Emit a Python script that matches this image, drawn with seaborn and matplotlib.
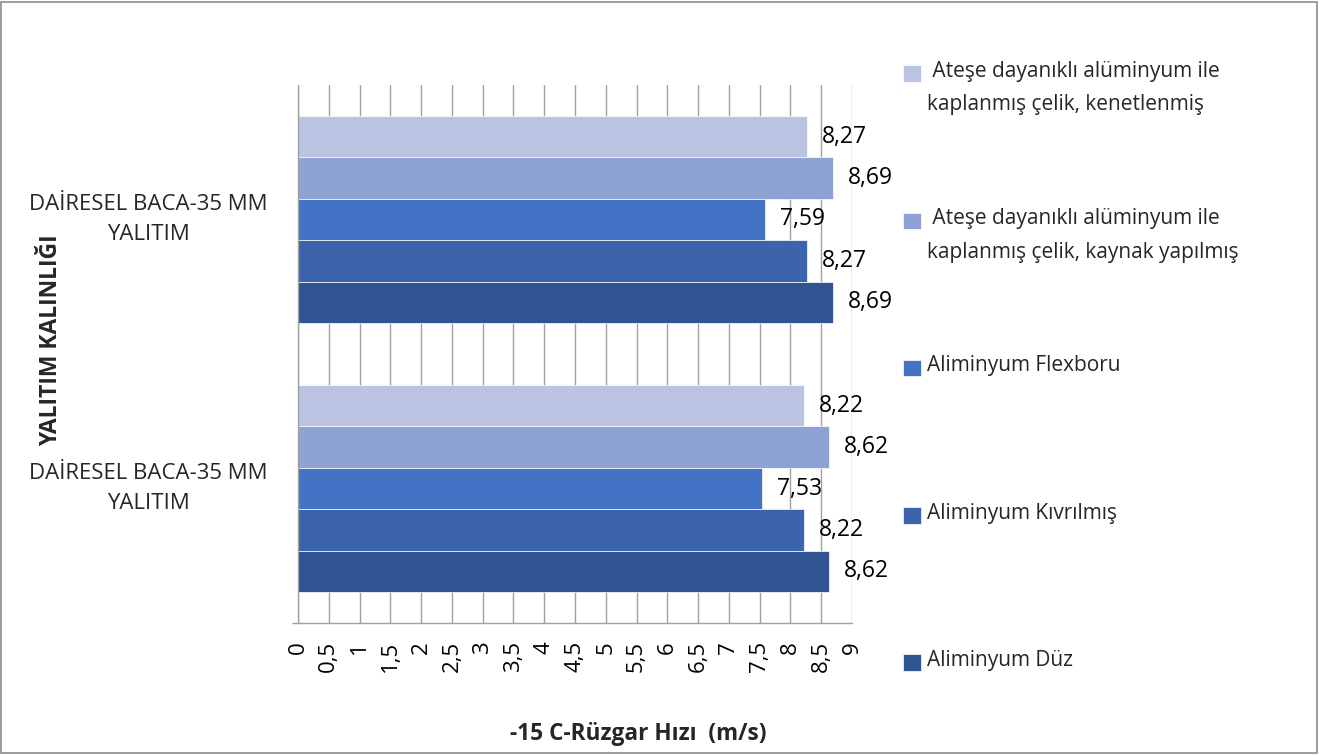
import matplotlib
matplotlib.use("Agg")
import matplotlib.pyplot as plt
import seaborn as sns
import pandas as pd
from matplotlib.patches import Rectangle
from matplotlib.legend_handler import HandlerPatch

# ---------------- data ----------------
category_keys = ["grup_ust", "grup_alt"]
category_labels = ["DAİRESEL BACA-35 MM\nYALITIM", "DAİRESEL BACA-35 MM\nYALITIM"]
series = [
    " Ateşe dayanıklı alüminyum ile\nkaplanmış çelik, kenetlenmiş",
    " Ateşe dayanıklı alüminyum ile\nkaplanmış çelik, kaynak yapılmış",
    "Aliminyum Flexboru",
    "Aliminyum Kıvrılmış",
    "Aliminyum Düz",
]
values_ust = [8.27, 8.69, 7.59, 8.27, 8.69]
values_alt = [8.22, 8.62, 7.53, 8.22, 8.62]
colors = ["#BAC3E2", "#8FA2D4", "#4472C4", "#3B64AD", "#305491"]
xticks = [0, 0.5, 1, 1.5, 2, 2.5, 3, 3.5, 4, 4.5, 5, 5.5, 6, 6.5, 7, 7.5, 8, 8.5, 9]
xtick_labels = ["0", "0,5", "1", "1,5", "2", "2,5", "3", "3,5", "4", "4,5",
                "5", "5,5", "6", "6,5", "7", "7,5", "8", "8,5", "9"]
x_title = "-15 C-Rüzgar Hızı  (m/s)"
y_title = "YALITIM KALINLIĞI"

rows = []
for key, vals in zip(category_keys, [values_ust, values_alt]):
    for s, v in zip(series, vals):
        rows.append({"kategori": key, "seri": s, "deger": v})
df = pd.DataFrame(rows)

# ---------------- style ----------------
sns.set_theme(style="white")
plt.rcParams["font.family"] = ["Open Sans", "DejaVu Sans"]
grid_col = "#A0A0A0"

fig = plt.figure(figsize=(13.2, 7.55), dpi=100)
ax = fig.add_axes([298 / 1320, 1 - 623 / 755, (852 - 298) / 1320, (623 - 85) / 755])

sns.barplot(data=df, y="kategori", x="deger", hue="seri", order=category_keys,
            hue_order=series, palette=colors, orient="h", width=0.77,
            saturation=1, errorbar=None, edgecolor="white", linewidth=0.5, ax=ax)

for c in ax.containers:
    ax.bar_label(c, fmt=lambda v: f"{v:.2f}".replace(".", ","), padding=11,
                 fontsize=16.5, color="black")

ax.set_xlim(0, 9)
ax.set_xticks(xticks)
ax.set_xticklabels(xtick_labels, rotation=90, fontsize=16)
ax.tick_params(axis="x", length=0, pad=13, colors="black")

ax.set_yticks(range(len(category_keys)))
ax.set_yticklabels(category_labels, fontsize=16, ha="center", va="center")
for t in ax.get_yticklabels():
    t.set_multialignment("center")
    t.set_linespacing(1.6)
ax.tick_params(axis="y", which="major", length=0, pad=108)
ax.set_yticks([1.5], minor=True)
ax.tick_params(axis="y", which="minor", length=4.5, width=1, color=grid_col, left=True)

ax.grid(axis="x", color=grid_col, lw=1)
ax.grid(axis="y", visible=False)
ax.set_axisbelow(True)
for sp in ["top", "right"]:
    ax.spines[sp].set_visible(False)
for sp in ["left", "bottom"]:
    ax.spines[sp].set_color(grid_col)
    ax.spines[sp].set_linewidth(1)

ax.set_xlabel(x_title, fontsize=16.3, fontweight="bold")
ax.xaxis.set_label_coords((638 - 298) / 554, (623 - 722) / 538)
ax.set_ylabel(y_title, fontsize=16.5, fontweight="bold")
ax.yaxis.set_label_coords((63 - 298) / 554, (623 - 340) / 538)

# ---------------- legend ----------------
old = ax.get_legend()
handles = old.legend_handles
old.remove()
leg_labels = [s if "\n" in s else s + "\n" for s in series]


def shifted_patch(legend, orig_handle, xdescent, ydescent, width, height, fontsize):
    return Rectangle((-xdescent, -ydescent + 11.0), width, height)


leg = ax.legend(handles, leg_labels,
                handler_map={Rectangle: HandlerPatch(patch_func=shifted_patch)},
                loc="upper left", bbox_to_anchor=(903 / 1320, 1 - 61 / 755),
                bbox_transform=fig.transFigure, frameon=False, fontsize=15,
                handlelength=0.85, handleheight=0.85, handletextpad=0.3,
                labelspacing=4.45, borderpad=0, borderaxespad=0)
for t in leg.get_texts():
    t.set_linespacing(1.78)

fig.add_artist(Rectangle((0.001, 0.002), 0.997, 0.996, transform=fig.transFigure,
                         fill=False, edgecolor="#8C8C8C", lw=1.2))

fig.savefig("out.png", dpi=100)
